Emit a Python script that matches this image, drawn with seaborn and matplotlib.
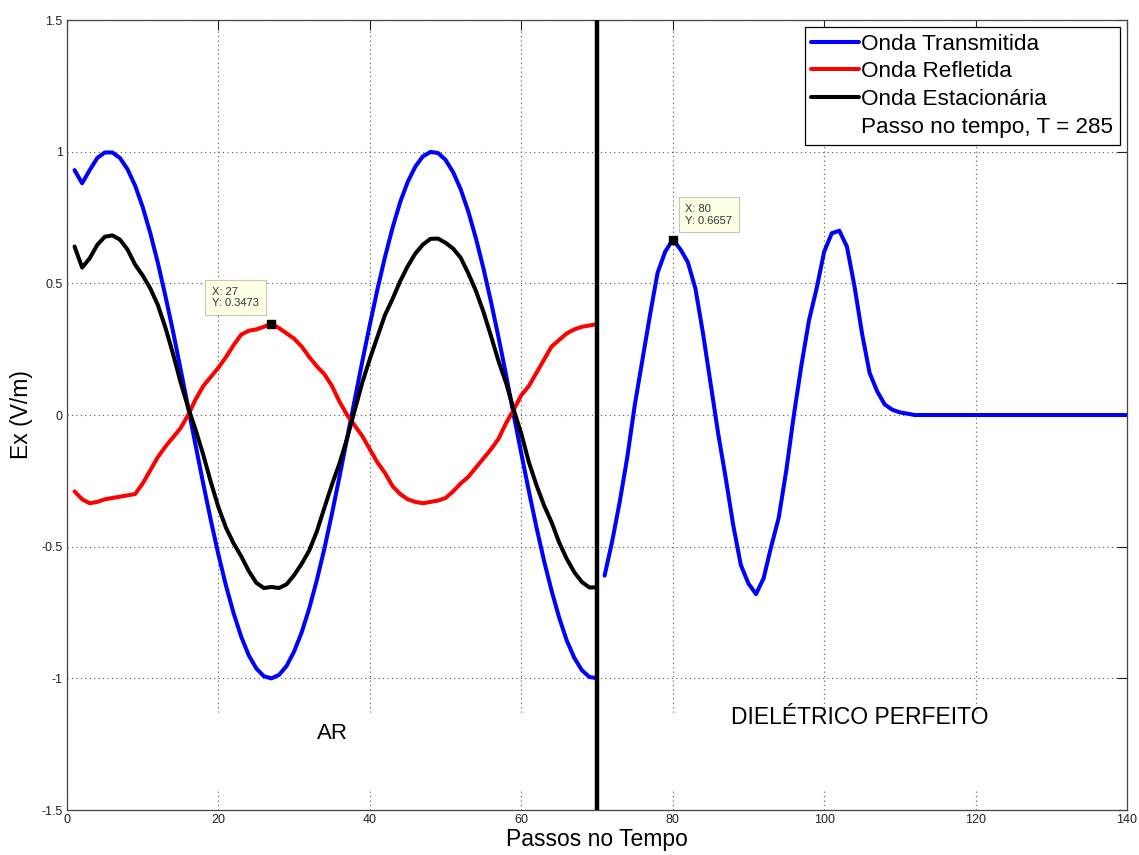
import matplotlib
matplotlib.use("Agg")
import numpy as np
import pandas as pd
import matplotlib.pyplot as plt
import seaborn as sns
from matplotlib.lines import Line2D

# passos no tempo (ar e dielétrico)
passos_ar = list(range(1, 71))
passos_diel = list(range(71, 141))

# onda transmitida no ar
transmitida_ar = [
    0.93, 0.88, 0.93, 0.976, 0.997, 0.997, 0.976, 0.933, 0.871, 0.790,
    0.691, 0.578, 0.452, 0.318, 0.175, 0.029, -0.117, -0.261, -0.400, -0.530,
    -0.648, -0.752, -0.841, -0.912, -0.962, -0.992, -1.000, -0.987, -0.953, -0.898,
    -0.825, -0.734, -0.627, -0.507, -0.374, -0.233, -0.088, 0.058, 0.203, 0.343,
    0.477, 0.600, 0.711, 0.808, 0.885, 0.943, 0.982, 0.999, 0.995, 0.969,
    0.922, 0.857, 0.773, 0.672, 0.557, 0.430, 0.294, 0.151, 0.000, -0.146,
    -0.289, -0.426, -0.553, -0.667, -0.769, -0.856, -0.922, -0.969, -0.995, -0.999,
]

# onda transmitida no dielétrico
transmitida_diel = [
    -0.61, -0.48, -0.33, -0.16, 0.04, 0.21, 0.38, 0.54, 0.62, 0.6657,
    0.63, 0.58, 0.48, 0.31, 0.12, -0.07, -0.24, -0.42, -0.57, -0.64,
    -0.68, -0.62, -0.50, -0.39, -0.21, 0.0, 0.19, 0.36, 0.48, 0.62,
    0.69, 0.70, 0.64, 0.49, 0.31, 0.16, 0.09, 0.04, 0.02, 0.01,
    0.005, 0.0, 0.0, 0.0, 0.0, 0.0, 0.0, 0.0, 0.0, 0.0,
    0.0, 0.0, 0.0, 0.0, 0.0, 0.0, 0.0, 0.0, 0.0, 0.0,
    0.0, 0.0, 0.0, 0.0, 0.0, 0.0, 0.0, 0.0, 0.0, 0.0,
]

# onda refletida
refletida = [
    -0.29, -0.32, -0.335, -0.33, -0.32, -0.315, -0.31, -0.305, -0.30, -0.26,
    -0.21, -0.16, -0.12, -0.085, -0.05, 0.0, 0.06, 0.11, 0.145, 0.18,
    0.22, 0.265, 0.305, 0.32, 0.325, 0.335, 0.3473, 0.33, 0.31, 0.29,
    0.26, 0.22, 0.185, 0.155, 0.11, 0.05, 0.0, -0.04, -0.08, -0.13,
    -0.18, -0.22, -0.27, -0.30, -0.32, -0.33, -0.335, -0.33, -0.325, -0.315,
    -0.29, -0.26, -0.235, -0.20, -0.165, -0.13, -0.09, -0.03, 0.02, 0.075,
    0.11, 0.16, 0.21, 0.26, 0.285, 0.31, 0.325, 0.335, 0.34, 0.345,
]

# onda estacionária
estacionaria = [
    0.64, 0.56, 0.595, 0.646, 0.677, 0.682, 0.666, 0.628, 0.571, 0.53,
    0.481, 0.418, 0.332, 0.233, 0.125, 0.029, -0.057, -0.151, -0.255, -0.35,
    -0.428, -0.487, -0.536, -0.592, -0.637, -0.657, -0.653, -0.657, -0.643, -0.608,
    -0.565, -0.514, -0.442, -0.352, -0.264, -0.183, -0.088, 0.018, 0.123, 0.213,
    0.297, 0.38, 0.441, 0.508, 0.565, 0.613, 0.647, 0.669, 0.67, 0.654,
    0.632, 0.597, 0.538, 0.472, 0.392, 0.30, 0.204, 0.121, 0.02, -0.071,
    -0.179, -0.266, -0.343, -0.407, -0.484, -0.546, -0.597, -0.634, -0.655, -0.654,
]

interface = 70
marcadores_x = [27, 80]
marcadores_y = [0.3473, 0.6657]

sns.set_theme(style="white")
plt.rcParams['font.family'] = ['Liberation Sans', 'DejaVu Sans']
plt.rcParams['text.color'] = 'black'
plt.rcParams['axes.labelcolor'] = 'black'

fig = plt.figure(figsize=(11.39, 8.55), dpi=100)
ax = fig.add_axes([0.0588, 0.0526, 0.9307, 0.924])

df_ar = pd.DataFrame({"passo": passos_ar, "transmitida": transmitida_ar,
                      "refletida": refletida, "estacionaria": estacionaria})
df_diel = pd.DataFrame({"passo": passos_diel, "transmitida": transmitida_diel})

lw = 2.9
sns.lineplot(data=df_ar, x="passo", y="transmitida", color="#0000ff", lw=lw, ax=ax, zorder=3)
sns.lineplot(data=df_diel, x="passo", y="transmitida", color="#0000ff", lw=lw, ax=ax, zorder=3)
sns.lineplot(data=df_ar, x="passo", y="refletida", color="#ff0000", lw=lw, ax=ax, zorder=3)
sns.lineplot(data=df_ar, x="passo", y="estacionaria", color="black", lw=lw, ax=ax, zorder=3)

ax.axvline(interface, color="black", lw=3.2, zorder=4)

ax.set_xlim(0, 140)
ax.set_ylim(-1.5, 1.5)
ax.set_xticks(np.arange(0, 141, 20))
ax.set_yticks([-1.5, -1, -0.5, 0, 0.5, 1, 1.5])
ax.set_yticklabels(["-1.5", "-1", "-0.5", "0", "0.5", "1", "1.5"])
ax.grid(True, color="#555555", linestyle=(0, (1, 3)), lw=0.8)
ax.set_axisbelow(True)
ax.axhspan(-1.42, -1.13, color="white", zorder=1)
ax.tick_params(direction="in", top=True, right=True, length=7, width=0.8,
               labelsize=9, colors="#222222", pad=3)
for s in ax.spines.values():
    s.set_color("#444444")
    s.set_linewidth(0.9)

ax.set_xlabel("Passos no Tempo", fontsize=16.5, labelpad=1)
ax.set_ylabel("Ex (V/m)", fontsize=16.5, labelpad=6)

ax.text(35, -1.21, "AR", fontsize=16, ha="center", va="center", zorder=5)
ax.text(104.7, -1.15, "DIELÉTRICO PERFEITO", fontsize=16.5, ha="center", va="center", zorder=5)

# data tips
ax.scatter(marcadores_x, marcadores_y, marker="s", s=40, color="black", zorder=6)
offsets = [(-36, 26), (36, 25)]
for mx, my, off in zip(marcadores_x, marcadores_y, offsets):
    ax.annotate(f"X: {mx}\nY: {my}", xy=(mx, my), xytext=off, textcoords="offset pixels",
                ha="center", va="center", multialignment="left", fontsize=8,
                color="#333333", zorder=7,
                bbox=dict(boxstyle="square,pad=0.6", fc="#ffffe6", ec="#c8c8b0", lw=0.8))

handles = [Line2D([], [], color="#0000ff", lw=lw),
           Line2D([], [], color="#ff0000", lw=lw),
           Line2D([], [], color="black", lw=lw),
           Line2D([], [], color="none")]
labels = ["Onda Transmitida", "Onda Refletida", "Onda Estacionária", "Passo no tempo, T = 285"]
leg = ax.legend(handles, labels, loc="upper right", fontsize=16.2, frameon=True,
                fancybox=False, framealpha=1, edgecolor="black", handlelength=2.1,
                handletextpad=0.12, labelspacing=0.3, borderpad=0.3, borderaxespad=0.3)
leg.get_frame().set_linewidth(0.9)

fig.savefig("out.png", dpi=100)
